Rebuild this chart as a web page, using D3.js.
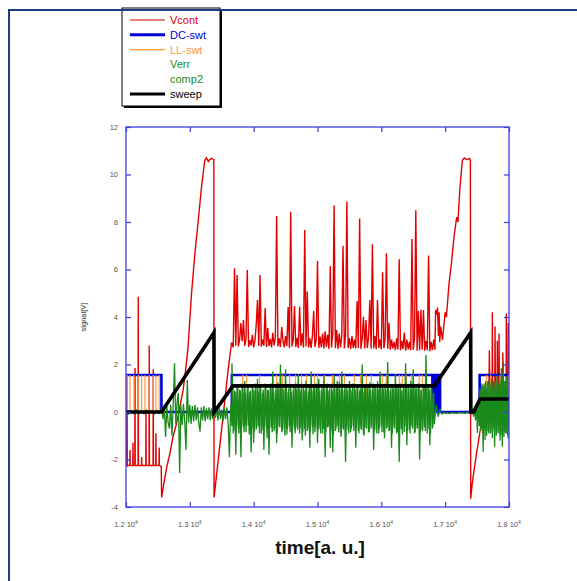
<!DOCTYPE html>
<html>
<head>
<meta charset="utf-8">
<script src="https://cdn.jsdelivr.net/npm/d3@7"></script>
<style>
body { margin: 0; background: #fff; }
svg { display: block; font-family: "Liberation Sans", Arial, sans-serif; }
</style>
</head>
<body>
<div id="chart"></div>
<script>
var width = 577,
    height = 581,
    plot = {left: 126, top: 127, right: 509, bottom: 507};

// ticks
var xTicks = [12000, 13000, 14000, 15000, 16000, 17000, 18000],
    xTickLabels = ['1.2', '1.3', '1.4', '1.5', '1.6', '1.7', '1.8'],
    yTicks = [-4, -2, 0, 2, 4, 6, 8, 10, 12];

var seriesNames = ['Vcont', 'DC-swt', 'LL-swt', 'Verr', 'comp2', 'sweep'],
    seriesColors = ['#e00000', '#0000d8', '#ff9a3c', '#1a8a1a', '#1a8a1a', '#000000'];

// Vcont: first part, [time, value]
var vcontStart = [
    [12000,-2.2],[12012,-2.25],[12016,1.6],[12020,-2.25],[12060,-2.25],[12063,-1.6],[12066,-2.25],
    [12106,-2.25],[12109,-1.3],[12112,-2.25],[12138,-2.25],[12141,1.85],[12144,-2.25],
    [12189,-2.25],[12192,4.85],[12195,-2.25],[12242,-2.25],[12245,-1.9],[12248,-2.25],
    [12310,-2.25],[12313,0.0],[12316,-2.25],[12361,-2.25],[12364,2.8],[12367,-2.25],
    [12424,-2.25],[12427,1.8],[12430,-2.25],[12466,-2.25],[12469,-0.9],[12472,-2.25],
    [12517,-2.25],[12520,-1.5],[12523,-2.25],[12552,-2.3],
    [12558,-3.6],[12600,-2.9],[12640,-2.3],[12688,-1.74],[12740,-1.0],[12792,-0.48],
    [12850,0.3],[12895,0.93],[12940,1.9],[12973,2.75],[13000,3.9],[13027,5.0],[13080,6.7],
    [13130,8.0],[13180,9.4],[13234,10.6],[13260,10.7],[13290,10.55],[13310,10.62],
    [13340,10.68],[13376,10.62],[13380,-3.6],[13400,-3.11],[13450,-1.9],[13500,-0.68],
    [13550,0.54],[13600,1.76],[13652,2.9]
];
// Vcont: middle part, one sample every 20 from 13660
var vcontMidStart = 13660, vcontMidStep = 20;
var vcontMid = [
    2.9, 2.72, 6.05, 2.8, 5.77, 2.76, 3.05, 3.75, 2.98, 3.87,
    2.78, 3.1, 5.98, 2.74, 3.02, 2.8, 3.25, 2.72, 3.0, 3.66,
    4.72, 2.78, 5.77, 2.75, 3.05, 2.8, 4.38, 2.74, 3.54, 2.78,
    3.08, 2.72, 3.33, 2.8, 3.15, 8.25, 2.76, 3.1, 2.74, 3.58,
    2.98, 2.72, 3.2, 2.78, 4.42, 2.7, 8.43, 2.76, 3.05, 4.46,
    2.74, 3.12, 2.7, 4.44, 2.78, 3.3, 2.72, 7.66, 2.76, 5.07,
    2.72, 3.1, 2.7, 3.2, 4.25, 2.74, 3.05, 6.36, 2.7, 3.18,
    2.72, 3.3, 2.68, 3.4, 2.74, 3.25, 2.66, 6.15, 2.72, 3.35,
    8.69, 2.7, 3.45, 2.66, 3.3, 2.72, 3.2, 7.0, 2.68, 3.25,
    8.86, 2.7, 3.1, 2.66, 3.2, 2.7, 3.05, 2.68, 4.67, 2.7,
    8.15, 2.66, 3.1, 4.01, 2.68, 3.87, 2.7, 3.15, 4.72, 2.66,
    7.06, 2.68, 3.2, 2.64, 4.72, 2.7, 3.05, 2.64, 5.88, 2.68,
    3.1, 6.68, 2.66, 3.76, 2.62, 3.05, 2.68, 2.95, 2.6, 3.1,
    2.64, 6.43, 2.6, 3.0, 2.66, 3.35, 2.58, 3.05, 2.64, 2.95,
    2.6, 7.28, 2.62, 3.1, 8.49, 2.58, 4.25, 2.6, 4.3, 2.62,
    4.29, 2.58, 3.0, 2.6, 6.59, 2.56, 2.95, 2.6, 3.05, 2.62
];
// Vcont: last part, [time, value]
var vcontEnd = [
    [16840,2.7],[16850,4.3],[16870,4.1],[16880,4.4],[16895,3.2],[16905,4.2],[16915,2.95],
    [16930,3.6],[16958,3.03],[17000,4.2],[17020,4.0],[17060,5.4],[17100,6.3],[17140,7.4],
    [17180,8.2],[17200,8.0],[17230,9.4],[17270,10.6],[17300,10.7],[17340,10.62],[17380,10.68],
    [17395,10.6],[17400,-3.65],[17420,-3.1],[17450,-2.5],[17500,-1.6],[17550,-0.75],
    [17620,0.4],[17688,1.35],[17692,2.6],[17700,1.0],[17736,1.1],[17739,4.2],[17745,0.8],
    [17778,1.0],[17781,3.6],[17787,1.1],[17814,0.9],[17817,3.0],[17823,0.9],[17841,0.8],
    [17844,3.3],[17850,0.7],[17900,0.9],[17903,2.5],[17910,0.9],[17955,1.0],[17958,4.15],
    [17964,1.0],[17985,0.8],[17988,3.75],[17994,1.0],[18000,1.2]
];

// DC-swt: step levels, each level holds until the next time
var dcT = [12000, 12555, 13658, 16800, 16808, 16815, 16822, 16830, 16838, 16845, 16852,
           16860, 16868, 16875, 16882, 16890, 16898, 16905, 16912, 16920, 17540, 18000];
var dcV = [1.56, 0, 1.56, 0, 1.56, 0, 1.56, 0, 1.56, 0, 1.56,
           0, 1.56, 0, 1.56, 0, 1.56, 0, 1.56, 0, 1.56, 1.56];

// LL-swt: short pulses down from the 1.56 level
var llHigh = 1.56;
var llPulseT = [12020, 12063, 12125, 12192, 12245, 12297, 12364, 12427, 12469, 12520,
                13828, 13891, 14094, 14359, 14453, 14563, 14656, 14750, 14828, 14953,
                15000, 15109, 15234, 15344, 15422, 15578, 15672, 15766, 15844, 16016,
                16078, 16281, 16328, 16391, 16469, 16594, 16641, 16703,
                17650, 17714, 17860, 17989];
var llPulseV = [0, 0, 0, 0, 0, 0, 0, 0, 0, 0,
                1.14, 1.2, 0.79, 1.0, 0.79, 0.9, 1.0, 0.7, 1.0, 0.43,
                0.6, 1.0, 1.0, 1.1, 1.1, 1.2, 1.2, 0.5, 1.1, 0.6,
                1.0, 0.29, 1.0, 1.1, 1.1, 1.2, 0.9, 1.0,
                1.1, 0.9, 1.0, 0.8];

// Verr: sampled pieces
var verrA = {t0: 12000, dt: 40, v: [0.06,-0.08,0.05,-0.06,0.09,-0.1,0.04,-0.07,0.08,-0.05,0.06,-0.09,0.05,-0.06]};
var verrB = {t0: 12560, dt: 20, v: [
    0.15, -0.3, 0.3, -1.05, 0.25, -0.45, -0.7, 0.3, -1.0, 0.35,
    2.05, -0.5, 0.4, 0.8, -2.57, 0.3, -0.55, 0.35, -0.4, -1.6,
    1.35, -0.45, 0.3, -0.5, 0.25, -0.4, 0.3, -0.35, 0.2, -0.45,
    -0.83, 0.2, -0.35, 0.25, -0.4, 0.15, -0.3, 0.2, -0.35, 0.15,
    -0.3, 0.2, -0.25, 0.15, -0.35, 0.2, -0.3, 0.1, -0.4, 0.15,
    -0.3, 0.2, -0.5, -1.9, 0.3, -0.6]};
var verrC = {t0: 13660, dt: 20, v: [
    2.05, -0.9, 0.9, -1.8, 1.1, -0.7, 0.95, -1.9, 1.2, -0.6,
    1.3, -0.85, 1.0, -0.55, 0.85, -1.7, 1.15, -1.3, 0.9, -0.75,
    1.4, -0.6, 1.05, -0.9, 0.8, -1.6, 1.2, -0.7, 0.95, -1.8,
    1.1, -0.65, 1.7, -0.8, 0.9, -1.3, 1.25, -0.6, 2.0, -0.85,
    1.0, -0.7, 1.8, -0.95, 0.85, -0.6, 1.15, -1.5, 0.95, -0.75,
    1.2, -0.65, 1.6, -0.9, 0.9, -1.2, 1.1, -0.7, 1.3, -0.8,
    0.85, -1.5, 1.7, -0.6, 1.05, -0.85, 1.2, -1.3, 1.4, -0.7,
    0.95, -0.9, 1.5, -1.9, 1.1, -0.65, 0.9, -1.5, 1.2, -1.7,
    1.56, -0.8, 1.0, -0.6, 1.25, -0.9, 1.7, -0.7, 0.95, -2.1,
    1.1, -0.75, 1.3, -0.85, 0.9, -0.6, 1.2, -1.5, 1.05, -0.8,
    0.9, -0.7, 2.0, -0.95, 1.15, -0.65, 1.0, -0.85, 1.25, -0.7,
    0.95, -1.6, 1.1, -0.75, 1.3, -0.9, 1.7, -0.6, 1.0, -0.85,
    1.2, -0.7, 2.1, -0.8, 0.9, -1.5, 1.15, -0.65, 1.6, -0.9,
    1.05, -2.1, 1.2, -0.7, 0.95, -0.85, 2.05, -1.4, 1.1, -0.75,
    1.3, -0.6, 1.8, -0.9, 1.0, -0.7, 1.2, -2.0, 0.95, -0.8,
    1.15, -0.65, 2.4, -0.9, 1.1, -1.4, 1.0, -0.7, 0.8]};
var verrD = {t0: 16830, dt: 30, v: [
    -0.5, 0.3, -0.2, 0.1, -0.08, -0.02, -0.06, -0.03, -0.07, -0.02,
    -0.05, -0.04, -0.06, -0.02, -0.05, -0.03, -0.06, -0.02, -0.04, -0.05]};
var verrE = {t0: 17400, dt: 15, v: [
    0.05, -0.1, 0.15, -0.2, 0.25, -0.35, 0.4, -0.88, 0.5, -0.6,
    0.9, -0.7, 1.1, -1.67, 1.2, -1.18, 1.0, -0.8, 1.3, -0.9,
    1.2, -0.83, 1.4, -0.7, 1.1, -1.46, 1.3, -0.9, 1.5, -0.8,
    1.2, -1.0, 1.84, -1.46, 2.12, -0.85, 1.3, -0.9, 1.5, -1.1,
    1.0]};

// comp2: active while DC-swt is high in the middle and at the end
var comp2Mid = {t0: 13670, dt: 20, v: [
    1.0, -0.8, 0.85, -0.65, 1.1, -0.9, 0.9, -0.7, 1.05, -0.85,
    0.8, -0.6, 1.15, -0.95, 0.9, -0.7, 1.0, -0.8, 1.2, -0.65,
    0.85, -0.9, 1.1, -0.75, 0.95, -0.6, 1.05, -1.1, 0.9, -0.7,
    1.2, -0.85, 0.8, -0.7, 1.1, -0.9, 0.95, -0.65, 1.0, -0.8,
    0.9, -1.0, 1.15, -0.7, 1.0, -0.85, 0.85, -0.6, 1.1, -0.9,
    0.95, -0.75, 1.05, -0.65, 1.2, -0.85, 0.9, -1.0, 1.0, -0.7,
    1.1, -0.8, 0.9, -0.95, 1.0, -0.65, 1.15, -0.75, 0.85, -0.9,
    1.05, -0.7, 0.95, -0.85, 1.2, -0.6, 1.0, -0.8, 0.9, -0.95,
    1.1, -0.7, 1.3, -0.85, 0.95, -1.05, 1.0, -0.75, 1.15, -0.65,
    0.9, -0.9, 1.05, -0.7, 1.2, -0.8, 0.95, -0.65, 1.1, -0.9,
    1.0, -0.75, 0.85, -1.0, 1.15, -0.7, 1.05, -0.85, 0.9, -0.6,
    1.2, -0.8, 1.0, -0.9, 0.95, -0.7, 1.1, -0.85, 1.0, -1.1,
    0.9, -0.65, 1.15, -0.8, 1.05, -0.9, 0.95, -0.7, 1.2, -0.85,
    1.0, -0.75, 0.9, -0.95, 1.1, -0.6, 1.25, -0.8, 1.0, -0.9,
    0.95, -0.7, 1.1, -0.85, 1.0, -0.65, 1.2, -0.9, 0.9, -0.75,
    1.05, -0.8, 1.15, -0.7, 0.95, -0.9, 1.0, -0.6]};
var comp2End = {t0: 17545, dt: 15, v: [
    1.0, -0.8, 1.2, -0.9, 1.1, -0.7, 1.3, -1.0, 1.2, -0.85,
    1.4, -0.9, 1.1, -1.1, 1.3, -0.8, 1.25, -1.0, 1.5, -0.9,
    1.2, -1.2, 1.35, -0.95, 1.4, -1.05, 1.3, -0.9, 1.45, -1.0]};

// sweep
var sweepT = [12000, 12557, 13378, 13380, 13677, 16830, 17400, 17402, 17450, 17545, 18000];
var sweepV = [0, 0, 3.34, 0, 1.1, 1.1, 3.34, 0, 0, 0.55, 0.55];

var svg = d3.select('#chart').append('svg')
    .attr('width', width)
    .attr('height', height);

var x = d3.scaleLinear().domain([12000, 18000]).range([plot.left, plot.right]),
    y = d3.scaleLinear().domain([-4, 12]).range([plot.bottom, plot.top]);

function sampled(piece) {
    return piece.v.map(function(v, i) { return [piece.t0 + i * piece.dt, v]; });
}
function zip(ts, vs) {
    return ts.map(function(t, i) { return [t, vs[i]]; });
}

var vcont = vcontStart
    .concat(vcontMid.map(function(v, i) { return [vcontMidStart + i * vcontMidStep, v]; }))
    .concat(vcontEnd);
var verr = sampled(verrA).concat(sampled(verrB), sampled(verrC), sampled(verrD), sampled(verrE));

var line = d3.line()
    .x(function(d) { return x(d[0]); })
    .y(function(d) { return y(d[1]); });
var stepLine = d3.line()
    .curve(d3.curveStepAfter)
    .x(function(d) { return x(d[0]); })
    .y(function(d) { return y(d[1]); });

// outer frame
svg.append('line').attr('x1', 9).attr('x2', 9).attr('y1', 10).attr('y2', height)
    .style('stroke', '#1f3c88').style('stroke-width', 2);

svg.append('clipPath').attr('id', 'clip')
    .append('rect')
    .attr('x', plot.left).attr('y', plot.top)
    .attr('width', plot.right - plot.left).attr('height', plot.bottom - plot.top);

var g = svg.append('g').attr('clip-path', 'url(#clip)');

g.append('path').datum(vcont).attr('d', line)
    .style('fill', 'none').style('stroke', seriesColors[0]).style('stroke-width', 1.4);
g.append('path').datum(zip(dcT, dcV)).attr('d', stepLine)
    .style('fill', 'none').style('stroke', seriesColors[1]).style('stroke-width', 2.6);
g.selectAll('line.ll')
    .data(zip(llPulseT, llPulseV))
    .enter().append('line')
    .attr('class', 'll')
    .attr('x1', function(d) { return x(d[0]); })
    .attr('x2', function(d) { return x(d[0]); })
    .attr('y1', y(llHigh))
    .attr('y2', function(d) { return y(d[1]); })
    .style('stroke', seriesColors[2]).style('stroke-width', 1.2);
g.append('path').datum(verr).attr('d', line)
    .style('fill', 'none').style('stroke', seriesColors[3]).style('stroke-width', 1.3);
[comp2Mid, comp2End].forEach(function(piece) {
    g.append('path').datum(sampled(piece)).attr('d', line)
        .style('fill', 'none').style('stroke', seriesColors[4]).style('stroke-width', 1.3);
});
g.append('path').datum(zip(sweepT, sweepV)).attr('d', line)
    .style('fill', 'none').style('stroke', seriesColors[5]).style('stroke-width', 3.6)
    .style('stroke-linejoin', 'miter');

// axes, ticks pointing inward
var axisColor = '#3c3cdc';
function styleAxis(sel) {
    sel.select('.domain').remove();
    sel.selectAll('.tick line').style('stroke', axisColor).style('stroke-width', 1.2);
}
svg.append('g').attr('transform', 'translate(0,' + plot.bottom + ')')
    .call(d3.axisBottom(x).tickValues(xTicks).tickSize(-5).tickFormat(''))
    .call(styleAxis);
svg.append('g').attr('transform', 'translate(0,' + plot.top + ')')
    .call(d3.axisTop(x).tickValues(xTicks).tickSize(-5).tickFormat(''))
    .call(styleAxis);
svg.append('g').attr('transform', 'translate(' + plot.left + ',0)')
    .call(d3.axisLeft(y).tickValues(yTicks).tickSize(-5).tickFormat(''))
    .call(styleAxis);
svg.append('g').attr('transform', 'translate(' + plot.right + ',0)')
    .call(d3.axisRight(y).tickValues(yTicks).tickSize(-5).tickFormat(''))
    .call(styleAxis);
svg.append('rect')
    .attr('x', plot.left).attr('y', plot.top)
    .attr('width', plot.right - plot.left).attr('height', plot.bottom - plot.top)
    .style('fill', 'none').style('stroke', axisColor).style('stroke-width', 1.3);

// tick labels
svg.selectAll('text.ylab').data(yTicks).enter().append('text')
    .attr('class', 'ylab')
    .attr('x', plot.left - 8)
    .attr('y', function(d) { return y(d) + 2.5; })
    .attr('text-anchor', 'end')
    .style('font-size', '7.5px').style('fill', '#555')
    .text(function(d) { return d; });

var xl = svg.selectAll('text.xlab').data(xTicks).enter().append('text')
    .attr('class', 'xlab')
    .attr('x', function(d) { return x(d); })
    .attr('y', plot.bottom + 20)
    .attr('text-anchor', 'middle')
    .style('font-size', '7.5px').style('fill', '#555');
xl.append('tspan').text(function(d, i) { return xTickLabels[i] + ' 10'; });
xl.append('tspan').attr('dy', -3).style('font-size', '5px').text('4');

svg.append('text')
    .attr('transform', 'translate(86,' + ((plot.top + plot.bottom) / 2) + ') rotate(-90)')
    .attr('text-anchor', 'middle')
    .style('font-size', '7.5px').style('fill', '#333')
    .text('signal[V]');

svg.append('text')
    .attr('x', 320).attr('y', 554)
    .attr('text-anchor', 'middle')
    .style('font-size', '19px').style('font-weight', 'bold').style('fill', '#111')
    .text('time[a. u.]');

// legend
var lg = svg.append('g');
lg.append('rect').attr('x', 124).attr('y', 10).attr('width', 98).attr('height', 98)
    .style('fill', '#000');
lg.append('rect').attr('x', 122).attr('y', 8).attr('width', 98).attr('height', 98)
    .style('fill', '#fff').style('stroke', '#000').style('stroke-width', 1);
var rows = lg.selectAll('g.row').data(seriesNames).enter().append('g')
    .attr('class', 'row')
    .attr('transform', function(d, i) { return 'translate(0,' + (20 + i * 14.8) + ')'; });
rows.filter(function(d) { return d !== 'Verr' && d !== 'comp2'; })
    .append('line')
    .attr('x1', 130).attr('x2', 165).attr('y1', 0).attr('y2', 0)
    .style('stroke', function(d) { return seriesColors[seriesNames.indexOf(d)]; })
    .style('stroke-width', function(d) { return (d === 'DC-swt' || d === 'sweep') ? 3 : 1.2; });
rows.append('text')
    .attr('x', 170).attr('y', 4)
    .style('font-size', '11px')
    .style('fill', function(d, i) { return seriesColors[i]; })
    .text(function(d) { return d; });

// outer top line, drawn over the legend top
svg.append('line').attr('x1', 8).attr('x2', width).attr('y1', 10).attr('y2', 10)
    .style('stroke', '#1f3c88').style('stroke-width', 2);
</script>
</body>
</html>
